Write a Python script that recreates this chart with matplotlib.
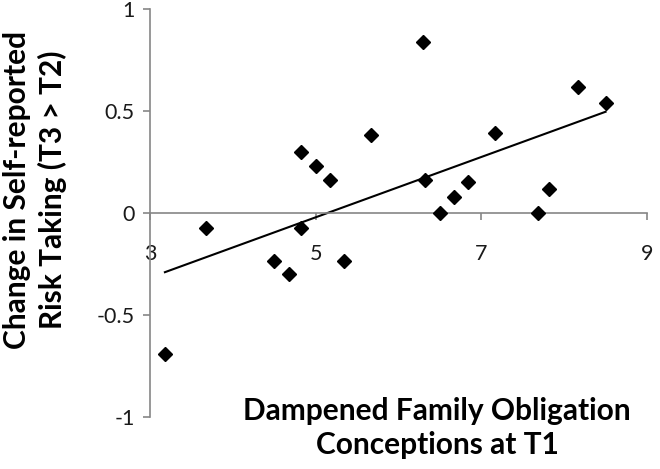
import numpy as np
import matplotlib.pyplot as plt

# dampened family obligation conceptions at T1
family_obligation = [3.18, 3.68, 4.50, 4.68, 4.82, 4.82, 5.00, 5.17, 5.34, 5.67,
                     6.30, 6.32, 6.50, 6.67, 6.84, 7.17, 7.68, 7.82, 8.17, 8.50]
# change in self-reported risk taking (T3 > T2)
risk_change = [-0.69, -0.075, -0.234, -0.30, -0.075, 0.30, 0.23, 0.16, -0.234, 0.38,
               0.84, 0.16, 0.00, 0.08, 0.15, 0.39, 0.00, 0.12, 0.62, 0.54]

x_ticks = [3, 5, 7, 9]
y_ticks = [-1, -0.5, 0, 0.5, 1]
y_tick_labels = ['-1', '-0.5', '0', '0.5', '1']

plt.rcParams['font.family'] = ['Lato', 'DejaVu Sans']

fig = plt.figure(figsize=(6.6, 4.69), dpi=100)
ax = fig.add_axes([150 / 660, 1 - 417 / 469, (647 - 150) / 660, (417 - 9) / 469])

ax.plot(family_obligation, risk_change, linestyle='none', marker='D',
        markersize=7.5, color='black', zorder=3)

# linear trendline
x = np.array(family_obligation)
slope, intercept = np.polyfit(x, risk_change, 1)
xs = np.array([x.min(), x.max()])
ax.plot(xs, slope * xs + intercept, color='black', linewidth=1.5, zorder=2)

ax.set_xlim(3, 9)
ax.set_ylim(-1, 1)
ax.set_xticks(x_ticks)
ax.set_yticks(y_ticks)
ax.set_yticklabels(y_tick_labels)

for s in ['top', 'right']:
    ax.spines[s].set_visible(False)
ax.spines['bottom'].set_position(('data', 0))
for s in ['left', 'bottom']:
    ax.spines[s].set_color('#868686')
    ax.spines[s].set_linewidth(1.2)

ax.tick_params(axis='both', direction='out', length=5, width=1.2, color='#868686',
               labelsize=15.5, labelcolor='#1a1a1a')
ax.tick_params(axis='x', pad=17)
ax.tick_params(axis='y', pad=6)

fig.text(437 / 660, 1 - 428 / 469, 'Dampened Family Obligation\nConceptions at T1',
         ha='center', va='center', fontsize=21.5, fontweight='bold',
         linespacing=1.3, multialignment='center')
fig.text(35 / 660, 1 - 190 / 469, 'Change in Self-reported\nRisk Taking (T3 > T2)',
         ha='center', va='center', rotation=90, fontsize=21.5, fontweight='bold',
         linespacing=1.3, multialignment='center')

fig.savefig('out.png', dpi=100)
